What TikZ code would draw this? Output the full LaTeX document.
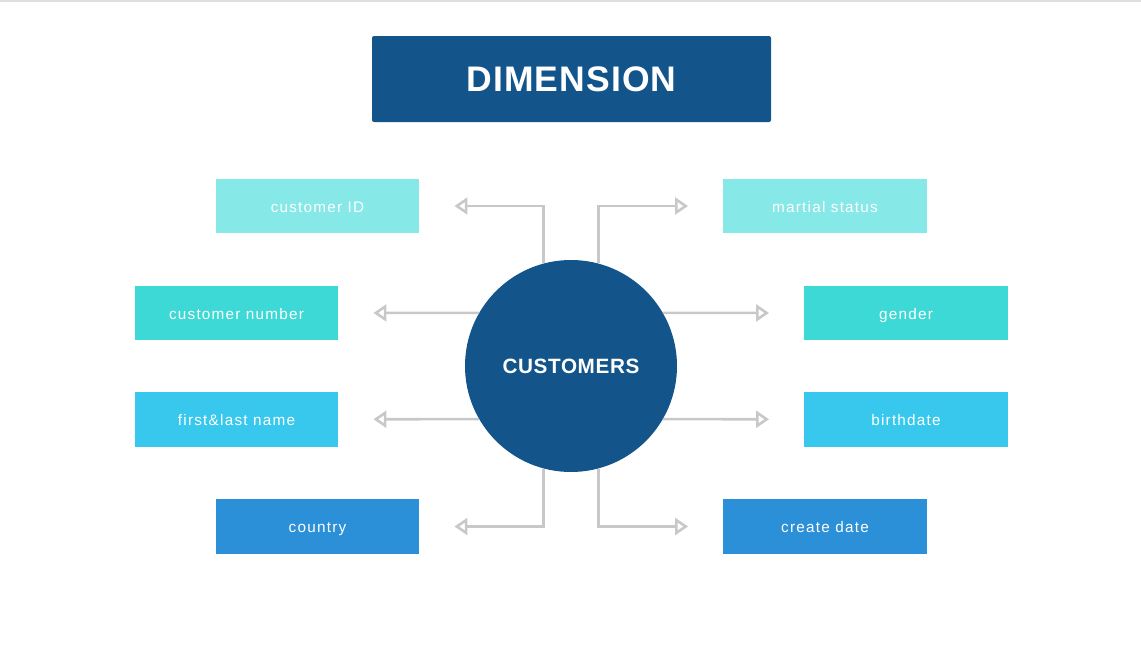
\documentclass[tikz,border=0pt]{standalone}
\usepackage{fontspec}
\setmainfont{Liberation Sans}
\newfontfamily\boxfont[LetterSpace=8]{Liberation Sans}
\newfontfamily\headfont[LetterSpace=3]{Liberation Sans}
\usepackage{tikz}
\usetikzlibrary{arrows.meta}
\usetikzlibrary{positioning}

\definecolor{navy}{HTML}{13558B}
\definecolor{pale}{HTML}{87E8E8}
\definecolor{teal}{HTML}{3DD9D6}
\definecolor{sky}{HTML}{38C8EE}
\definecolor{azure}{HTML}{2B90D7}
\definecolor{wire}{HTML}{C8C8C8}
\definecolor{rule}{HTML}{E0E0E0}

\begin{document}
\begin{tikzpicture}[x=1pt,y=-1pt,
  field/.style={rectangle,inner sep=0pt,minimum width=203.5pt,minimum height=54.5pt,
    text height=15pt,text depth=2.4pt,
    text=white,font=\boxfont\fontsize{15.3}{18}\selectfont},
  link/.style={draw=wire,line width=2.6pt,shorten >=35pt,
    -{Triangle[open,length=13pt,width=17pt]}}]
\useasboundingbox (0,0) rectangle (1141,645);
\draw[rule,line width=1.5pt] (0,1) -- (1141,1);

\node (t) [fill=navy,rounded corners=2pt,minimum width=399pt,minimum height=86pt,
  text=white,font=\headfont\bfseries\fontsize{35.5}{40}\selectfont] at (571.5,79) {DIMENSION};
\node (c) [circle,fill=navy,minimum size=212pt,inner sep=0pt,
  text=white,font=\headfont\bfseries\fontsize{20.7}{24}\selectfont] at (571,366) {CUSTOMERS};

\node (a) [field,fill=pale] at (317.5,206) {customer ID};
\node (b) [field,fill=teal] at (236.5,313) {customer number};
\node (d) [field,fill=sky] at (236.5,419.5) {first\&last name};
\node (e) [field,fill=azure] at (317.5,526.5) {country};
\node (f) [field,fill=pale] at (825,206) {martial status};
\node (g) [field,fill=teal] at (906,313) {gender};
\node (h) [field,fill=sky] at (906,419.5) {birthdate};
\node (i) [field,fill=azure] at (825,526.5) {create date};

\draw[link](c.105) |- (a);
\draw[link](c.150) -- (b);
\draw[link](c.210) -- (d);
\draw[link](c.255) |- (e);
\draw[link](c.75) |- (f);
\draw[link](c.30) -- (g);
\draw[link](c.330) -- (h);
\draw[link](c.285) |- (i);
\end{tikzpicture}
\end{document}
